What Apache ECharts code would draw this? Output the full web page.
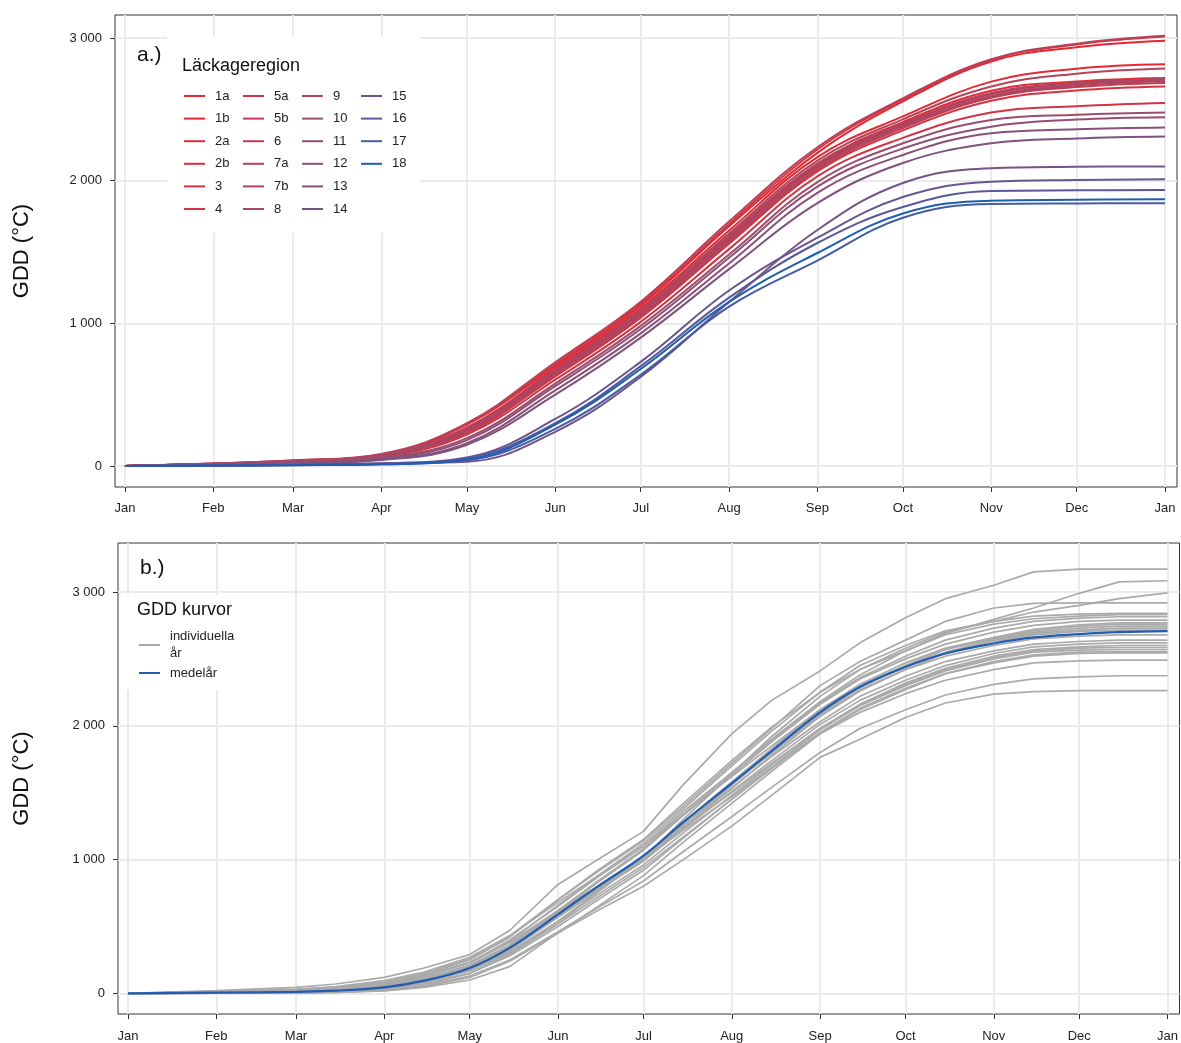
<!DOCTYPE html>
<html><head><meta charset="utf-8">
<script src="https://cdn.jsdelivr.net/npm/echarts@6/dist/echarts.min.js"></script>
<style>html,body{margin:0;padding:0;background:#fff}#c{width:1181px;height:1043px}</style>
</head><body><div id="c"></div>
<script>
// ---------- axis data ----------
const monthDays = [0,31,59,90,120,151,181,212,243,273,304,334,365];
const monthLabels = ['Jan','Feb','Mar','Apr','May','Jun','Jul','Aug','Sep','Oct','Nov','Dec','Jan'];
const yTickValues = [0,1000,2000,3000];
// sample days for individual years (1st and mid of month)
const halfMonthDays = [0,31,59,73,90,104,120,134,151,165,181,195,212,226,243,257,273,287,304,318,334,348,365];

// ---------- panel a: GDD per region at month starts ----------
const regionNames = ['1a','1b','2a','2b','3','4','5a','5b','6','7a','7b','8','9','10','11','12','13','14','15','16','17','18'];
const r1a = [0,16,36,82,292,700,1125,1680,2195,2555,2835,2935,2980];
const r1b = [0,15,34,78,270,685,1108,1650,2165,2450,2694,2785,2816];
const r2a = [0,15,33,76,255,668,1085,1612,2120,2410,2630,2695,2720];
const r2b = [0,14,31,74,248,655,1068,1590,2095,2385,2590,2667,2697];
const r3  = [0,13,29,68,232,628,1040,1558,2065,2352,2560,2632,2660];
const r4  = [0,12,27,64,220,605,1010,1520,2030,2300,2477,2522,2545];
const r5a = [0,17,38,80,290,712,1138,1695,2218,2568,2846,2955,3010];
const r5b = [0,16,34,77,252,660,1075,1600,2105,2395,2605,2682,2709];
const r6  = [0,15,32,72,242,640,1052,1572,2078,2368,2580,2656,2685];
const r7a = [0,18,40,85,300,727,1152,1713,2234,2577,2851,2960,3015];
const r7b = [0,16,35,80,265,675,1095,1630,2140,2430,2660,2750,2786];
const r8  = [0,17,36,80,262,672,1088,1615,2118,2400,2615,2685,2712];
const r9  = [0,15,32,72,240,648,1062,1585,2090,2380,2592,2672,2700];
const r10 = [0,11,25,58,195,578,982,1482,1990,2262,2425,2462,2478];
const r11 = [0,10,23,54,182,560,960,1460,1958,2225,2378,2428,2445];
const r12 = [0,9,20,48,160,530,930,1420,1915,2180,2332,2360,2373];
const r13 = [0,8,18,42,148,500,900,1380,1843,2124,2262,2296,2310];
const r14 = [0,4,9,20,30,240,625,1150,1654,1984,2087,2097,2100];
const r15 = [0,4,8,18,60,330,730,1230,1600,1885,1993,2005,2009];
const r16 = [0,3,7,15,55,300,700,1180,1563,1815,1927,1932,1935];
const r17 = [0,3,6,12,40,260,640,1117,1440,1740,1836,1840,1842];
const r18 = [0,3,6,12,45,290,680,1150,1493,1770,1860,1866,1870];
const regionValues = [r1a,r1b,r2a,r2b,r3,r4,r5a,r5b,r6,r7a,r7b,r8,r9,r10,r11,r12,r13,r14,r15,r16,r17,r18];

// ---------- panel b: individual years (half-month samples) and mean year ----------
const yr01 = [0,20,45,70,120,190,290,470,814,1000,1211,1560,1940,2190,2410,2620,2807,2950,3050,3150,3171,3171,3171];
const yr02 = [0,15,30,45,80,140,250,420,700,920,1150,1420,1740,1990,2250,2420,2560,2690,2795,2880,2990,3075,3084];
const yr03 = [0,10,25,40,70,130,230,390,660,880,1120,1380,1700,1960,2250,2450,2600,2710,2780,2850,2900,2950,2993];
const yr04 = [0,12,28,45,85,150,260,430,700,910,1140,1400,1720,1980,2300,2480,2640,2780,2880,2915,2918,2918,2918];
const yr05 = [0,3,8,14,30,70,150,290,540,760,1010,1300,1640,1920,2220,2420,2580,2700,2780,2820,2835,2840,2840];
const yr06 = [0,5,15,25,50,110,210,360,620,840,1080,1340,1650,1900,2180,2380,2560,2680,2760,2800,2820,2830,2830];
const yr07 = [0,10,22,35,65,125,230,400,650,870,1100,1360,1650,1890,2170,2360,2520,2640,2730,2780,2805,2815,2815];
const yr08 = [0,4,12,20,45,100,200,360,610,830,1070,1330,1630,1880,2160,2350,2500,2610,2700,2750,2780,2790,2790];
const yr09 = [0,12,30,50,95,160,270,430,680,880,1100,1340,1620,1850,2120,2300,2450,2570,2660,2720,2755,2770,2770];
const yr10 = [0,3,10,18,40,90,180,330,580,790,1020,1280,1580,1830,2120,2310,2470,2580,2660,2710,2745,2760,2760];
const yr11 = [0,8,18,30,60,115,210,360,600,800,1020,1270,1560,1800,2090,2290,2450,2570,2650,2700,2730,2745,2745];
const yr12 = [0,2,8,15,35,80,170,320,570,780,1010,1260,1560,1810,2100,2290,2440,2550,2640,2690,2715,2730,2730];
const yr13 = [0,5,12,20,45,95,185,330,570,770,990,1240,1530,1780,2070,2260,2420,2540,2630,2680,2705,2715,2715];
const yr14 = [0,2,6,12,30,70,150,290,520,760,1010,1260,1540,1770,2030,2220,2370,2480,2560,2610,2630,2640,2640];
const yr15 = [0,6,14,22,50,100,190,330,570,770,990,1230,1510,1740,2010,2190,2340,2450,2540,2590,2610,2620,2620];
const yr16 = [0,8,20,35,70,130,230,380,610,800,1010,1240,1500,1720,1980,2160,2320,2430,2520,2570,2590,2600,2600];
const yr17 = [0,5,12,20,45,90,175,310,540,740,960,1200,1480,1710,1980,2160,2310,2420,2510,2560,2580,2585,2585];
const yr18 = [0,2,6,12,30,70,150,280,500,700,920,1160,1450,1690,1970,2150,2300,2410,2500,2550,2565,2570,2570];
const yr19 = [0,4,10,18,40,85,170,300,520,720,940,1170,1450,1680,1950,2130,2280,2390,2480,2530,2550,2555,2555];
const yr20 = [0,1,4,8,20,50,120,240,450,650,880,1130,1420,1660,1940,2120,2270,2390,2470,2520,2540,2545,2545];
const yr21 = [0,10,22,36,70,130,230,380,620,800,1000,1220,1470,1690,1940,2100,2240,2340,2420,2470,2485,2490,2490];
const yr22 = [0,2,6,10,25,60,130,250,460,640,840,1060,1320,1540,1800,1980,2120,2230,2310,2350,2365,2374,2374];
const yr23 = [0,1,4,8,18,45,100,200,454,620,801,1000,1250,1480,1764,1900,2062,2170,2236,2255,2262,2262,2262];
const yr24 = [0,7,16,26,55,105,200,345,590,800,1020,1270,1560,1800,2080,2270,2420,2520,2600,2650,2670,2680,2680];
const yearValues = [yr01,yr02,yr03,yr04,yr05,yr06,yr07,yr08,yr09,yr10,yr11,yr12,yr13,yr14,yr15,yr16,yr17,yr18,yr19,yr20,yr21,yr22,yr23,yr24];
const meanYear = [0,5,12,20,45,95,190,340,590,800,1030,1280,1570,1810,2100,2290,2440,2540,2615,2660,2685,2700,2708];

// ---------- styles ----------
const regionColors = ['#E8262E','#E42934','#E02B38','#DC2E3C','#D73140','#D23444','#CC3748','#C73A4D','#C13D52','#BB4057','#B4435C','#AD4661','#A54967','#9C4C6D','#934E73','#895079','#7F527F','#745486','#68568F','#595899','#455BA4','#1F5DB3'];
const FONT = 'Liberation Sans, Arial, sans-serif';
const TXT = '#222222';
const GRID_COLOR = '#EBEBEB';

const fmtThousands = v => String(v).replace(/\B(?=(\d{3})+(?!\d))/g, ' ');

function xAxisFor(gi, margin) {
  return {
    type: 'value', gridIndex: gi, min: -3.5, max: 369.2,
    axisLine: { show: false, onZero: false },
    axisTick: { show: true, customValues: monthDays, length: 5, lineStyle: { color: '#333', width: 1 } },
    axisLabel: { customValues: monthDays, margin: margin, fontSize: 13, color: TXT, fontFamily: FONT,
      formatter: (v) => monthLabels[monthDays.indexOf(Math.round(v))] || '' },
    splitLine: { show: true, lineStyle: { color: GRID_COLOR, width: 2 } }
  };
}
function yAxisFor(gi, min, max, gap) {
  return {
    type: 'value', gridIndex: gi, min: min, max: max,
    name: 'GDD (°C)', nameLocation: 'middle', nameGap: gap,
    nameTextStyle: { fontSize: 22, color: '#111', fontFamily: FONT },
    axisLine: { show: false, onZero: false },
    axisTick: { show: true, customValues: yTickValues, length: 5, lineStyle: { color: '#333', width: 1 } },
    axisLabel: { customValues: yTickValues, margin: 13, fontSize: 13, color: TXT, fontFamily: FONT,
      formatter: (v) => fmtThousands(v) },
    splitLine: { show: true, lineStyle: { color: GRID_COLOR, width: 2 } }
  };
}

const series = [];
regionNames.forEach((nm, i) => {
  series.push({
    type: 'line', name: nm, xAxisIndex: 0, yAxisIndex: 0,
    data: monthDays.map((d, k) => [d, regionValues[i][k]]),
    symbol: 'none', showSymbol: false, smooth: 0.4,
    lineStyle: { width: 2, color: regionColors[i] }, itemStyle: { color: regionColors[i] },
    emphasis: { disabled: true }, z: 2
  });
});
yearValues.forEach((arr) => {
  series.push({
    type: 'line', name: 'individuella\når', xAxisIndex: 1, yAxisIndex: 1,
    data: halfMonthDays.map((d, k) => [d, arr[k]]),
    symbol: 'none', showSymbol: false, smooth: false,
    lineStyle: { width: 1.7, color: '#AAAAAA' }, itemStyle: { color: '#AAAAAA' },
    emphasis: { disabled: true }, z: 2
  });
});
series.push({
  type: 'line', name: 'medelår', xAxisIndex: 1, yAxisIndex: 1,
  data: halfMonthDays.map((d, k) => [d, meanYear[k]]),
  symbol: 'none', showSymbol: false, smooth: 0.4,
  lineStyle: { width: 2.2, color: '#1F5CB2' }, itemStyle: { color: '#1F5CB2' },
  emphasis: { disabled: true }, z: 3
});

const legendCommon = {
  orient: 'vertical', icon: 'rect', itemWidth: 21, itemHeight: 2, itemGap: 8.6, selectedMode: false, padding: 0,
  textStyle: { fontSize: 13, color: TXT, fontFamily: FONT, padding: [0, 0, 0, 5], lineHeight: 14 },
  z: 6
};
const legCols = [regionNames.slice(0,6), regionNames.slice(6,12), regionNames.slice(12,18), regionNames.slice(18)];
const legLefts = [184, 243, 302, 361];
const legends = legCols.map((names, i) => Object.assign({}, legendCommon, { left: legLefts[i], top: 89, data: names }));
legends.push(Object.assign({}, legendCommon, {
  left: 139, top: 628, itemGap: 2.5,
  textStyle: { fontSize: 13, color: TXT, fontFamily: FONT, padding: [0, 0, 0, 5], lineHeight: 17 },
  data: ['individuella\når', 'medelår']
}));

const option = {
  animation: false,
  backgroundColor: '#ffffff',
  grid: [
    { left: 115, top: 15, width: 1062, height: 472, show: true, borderColor: '#333', borderWidth: 1, backgroundColor: 'transparent' },
    { left: 118, top: 543, width: 1062, height: 472, show: true, borderColor: '#333', borderWidth: 1, backgroundColor: 'transparent' }
  ],
  xAxis: [xAxisFor(0, 15), xAxisFor(1, 16)],
  yAxis: [yAxisFor(0, -147, 3161, 82), yAxisFor(1, -154, 3366, 85)],
  legend: legends,
  graphic: [
    { type: 'rect', shape: { x: 167, y: 37, width: 253, height: 196 }, style: { fill: '#fff' }, z: 1, silent: true },
    { type: 'rect', shape: { x: 125, y: 595, width: 125, height: 95 }, style: { fill: '#fff' }, z: 1, silent: true },
    { type: 'text', left: 137, top: 45, style: { text: 'a.)', fontSize: 21, fill: '#111', fontFamily: FONT }, z: 7 },
    { type: 'text', left: 182, top: 57, style: { text: 'Läckageregion', fontSize: 18, fill: '#111', fontFamily: FONT }, z: 7 },
    { type: 'text', left: 140, top: 558, style: { text: 'b.)', fontSize: 21, fill: '#111', fontFamily: FONT }, z: 7 },
    { type: 'text', left: 137, top: 601, style: { text: 'GDD kurvor', fontSize: 18, fill: '#111', fontFamily: FONT }, z: 7 }
  ],
  series: series
};
const chart = echarts.init(document.getElementById('c'), null, { renderer: 'canvas' });
chart.setOption(option);
</script>
</body></html>
